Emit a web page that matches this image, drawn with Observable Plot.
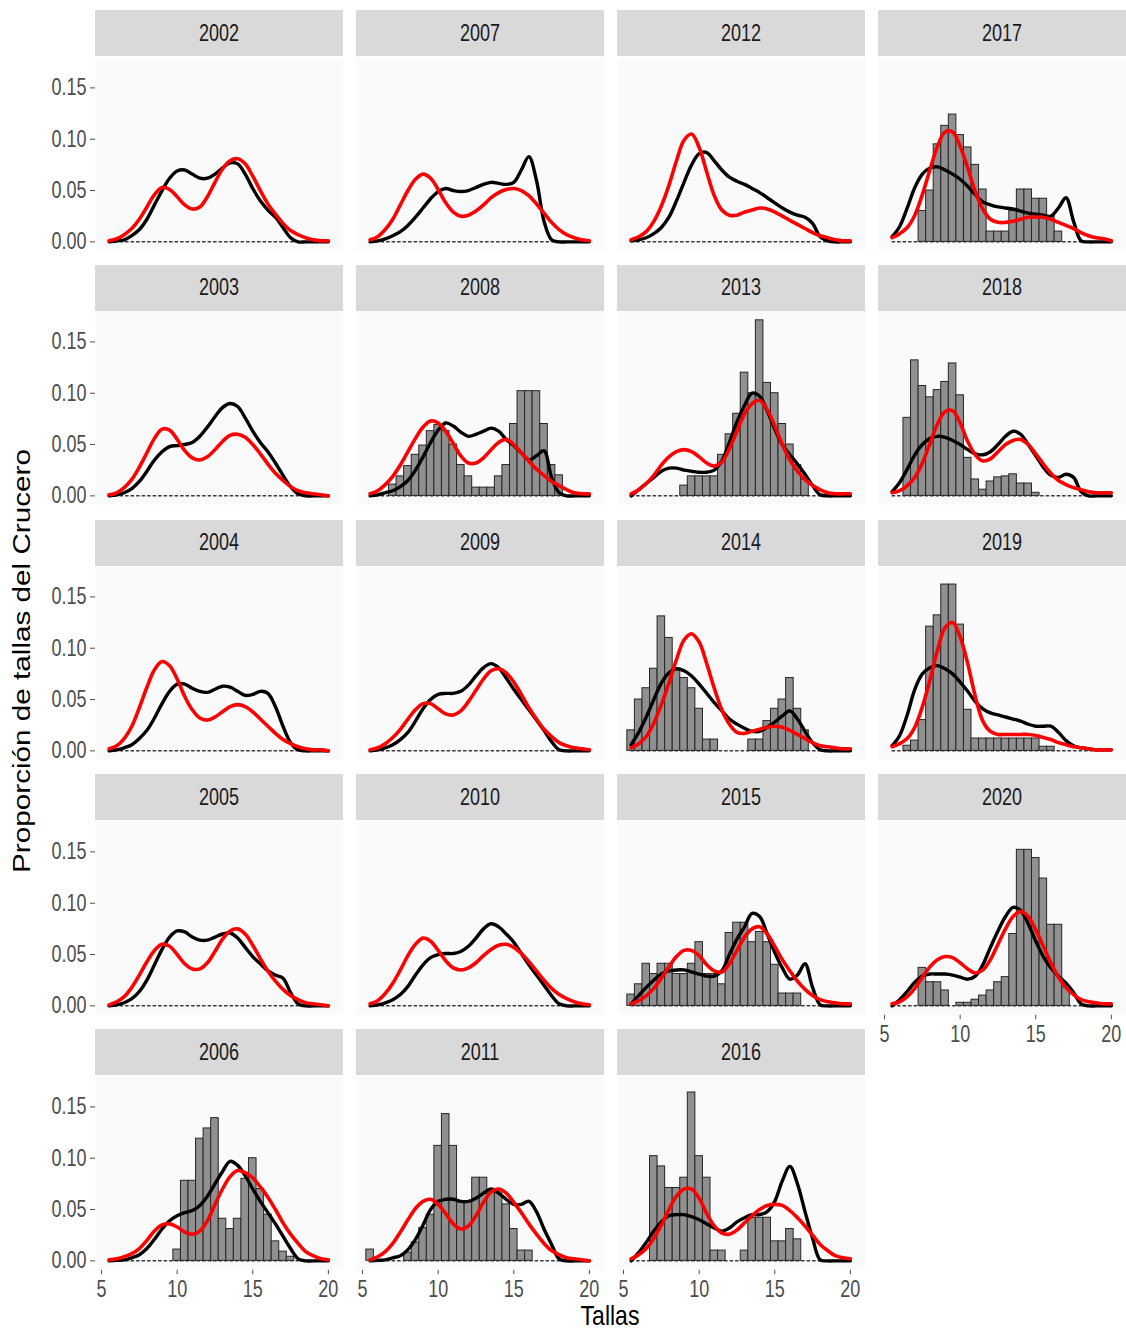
<!DOCTYPE html>
<html><head><meta charset="utf-8">
<script src="https://cdn.jsdelivr.net/npm/d3@7"></script>
<script src="https://cdn.jsdelivr.net/npm/@observablehq/plot@0.6"></script>
<style>
body{margin:0;background:#fff;font-family:"Liberation Sans",Arial,sans-serif;}
#chart{position:relative;width:1126px;height:1335px;overflow:hidden;}
.strip{position:absolute;background:#d9d9d9;height:46px;display:flex;align-items:center;justify-content:center;color:#1a1a1a;font-size:18px;}
.strip span{display:inline-block;transform:scaleY(1.29);}
.panel{position:absolute;}
.ytitle{position:absolute;left:22px;top:661px;transform:translate(-50%,-50%) rotate(-90deg) scaleX(1.29);white-space:nowrap;font-size:23px;color:#000;}
.xtitle{position:absolute;left:610px;top:1315px;transform:translate(-50%,-50%) scaleY(1.2);white-space:nowrap;font-size:23px;line-height:24px;color:#000;}
</style></head><body><div id="chart"></div>
<script>
// Tallas (cm), bin centres / curve points
const tallas = [5.5,6,6.5,7,7.5,8,8.5,9,9.5,10,10.5,11,11.5,12,12.5,13,13.5,14,14.5,15,15.5,16,16.5,17,17.5,18,18.5,19,19.5,20];
const years = [2002,2003,2004,2005,2006,2007,2008,2009,2010,2011,2012,2013,2014,2015,2016,2017,2018,2019,2020];
const xTicks = [5,10,15,20];
const yTicks = [0,0.05,0.10,0.15];
const yTitle = "Proporción de tallas del Crucero";
const xTitle = "Tallas";

// observed (black) curves
const black2002 = [0,0.001,0.002,0.006,0.012,0.022,0.036,0.05,0.062,0.069,0.07,0.066,0.062,0.062,0.066,0.072,0.077,0.076,0.066,0.052,0.04,0.031,0.024,0.014,0.004,0,0,0,0,0];
const black2003 = [0,0.001,0.003,0.007,0.014,0.024,0.035,0.043,0.048,0.049,0.05,0.052,0.058,0.067,0.077,0.086,0.09,0.087,0.076,0.063,0.052,0.043,0.032,0.02,0.009,0.002,0,0,0,0];
const black2004 = [0,0.001,0.003,0.006,0.012,0.02,0.032,0.046,0.058,0.065,0.065,0.061,0.058,0.057,0.06,0.063,0.062,0.058,0.054,0.055,0.058,0.056,0.043,0.024,0.008,0.001,0,0,0,0];
const black2005 = [0,0.001,0.003,0.007,0.014,0.025,0.04,0.055,0.067,0.073,0.072,0.067,0.064,0.064,0.067,0.07,0.071,0.066,0.057,0.048,0.041,0.034,0.03,0.027,0.013,0.002,0,0,0,0];
const black2006 = [0,0.0005,0.001,0.003,0.006,0.012,0.021,0.031,0.039,0.044,0.047,0.049,0.054,0.063,0.075,0.087,0.097,0.093,0.083,0.07,0.058,0.047,0.036,0.024,0.012,0.002,0,0,0,0];
const black2007 = [0,0.001,0.003,0.006,0.01,0.016,0.024,0.033,0.042,0.049,0.052,0.05,0.049,0.05,0.053,0.056,0.058,0.057,0.056,0.058,0.07,0.083,0.06,0.02,0.002,0,0,0,0,0];
const black2008 = [0,0.001,0.003,0.005,0.009,0.015,0.025,0.038,0.052,0.064,0.071,0.068,0.062,0.058,0.06,0.063,0.066,0.063,0.055,0.049,0.042,0.035,0.039,0.044,0.018,0.003,0,0,0,0];
const black2009 = [0,0.001,0.003,0.006,0.011,0.018,0.029,0.041,0.05,0.055,0.056,0.056,0.058,0.064,0.073,0.081,0.085,0.081,0.071,0.06,0.05,0.04,0.03,0.02,0.009,0.001,0,0,0,0];
const black2010 = [0,0.001,0.003,0.006,0.011,0.019,0.03,0.04,0.047,0.05,0.051,0.051,0.053,0.058,0.066,0.075,0.08,0.077,0.07,0.062,0.051,0.04,0.03,0.02,0.01,0.002,0,0,0,0];
const black2011 = [0,0.0005,0.001,0.003,0.005,0.011,0.021,0.035,0.05,0.058,0.06,0.06,0.058,0.058,0.061,0.066,0.07,0.066,0.06,0.055,0.055,0.058,0.048,0.031,0.016,0.002,0,0,0,0];
const black2012 = [0.001,0.002,0.004,0.008,0.014,0.024,0.04,0.058,0.075,0.086,0.087,0.079,0.07,0.063,0.059,0.056,0.052,0.048,0.043,0.038,0.033,0.029,0.026,0.024,0.018,0.005,0.001,0,0,0];
const black2013 = [0,0.006,0.012,0.018,0.024,0.027,0.027,0.025,0.024,0.023,0.023,0.025,0.034,0.052,0.072,0.088,0.1,0.097,0.083,0.065,0.05,0.04,0.031,0.021,0.01,0.001,0,0,0,0];
const black2014 = [0.006,0.018,0.033,0.05,0.066,0.076,0.08,0.078,0.073,0.065,0.056,0.047,0.039,0.031,0.026,0.022,0.019,0.019,0.023,0.028,0.034,0.039,0.031,0.019,0.008,0.001,0,0,0,0];
const black2015 = [0.002,0.01,0.018,0.025,0.031,0.034,0.035,0.035,0.033,0.031,0.029,0.029,0.034,0.05,0.065,0.077,0.09,0.087,0.07,0.052,0.037,0.026,0.03,0.041,0.018,0.001,0,0,0,0];
const black2016 = [0,0.008,0.018,0.029,0.038,0.044,0.045,0.045,0.043,0.04,0.036,0.032,0.029,0.032,0.038,0.042,0.045,0.045,0.048,0.058,0.078,0.092,0.075,0.048,0.022,0.001,0,0,0,0];
const black2017 = [0.005,0.015,0.033,0.053,0.066,0.072,0.073,0.07,0.066,0.061,0.054,0.046,0.039,0.036,0.034,0.033,0.032,0.03,0.028,0.027,0.026,0.025,0.033,0.043,0.02,0.001,0,0,0,0];
const black2018 = [0.004,0.013,0.026,0.04,0.05,0.056,0.058,0.057,0.054,0.05,0.045,0.041,0.04,0.043,0.05,0.058,0.063,0.06,0.05,0.039,0.028,0.02,0.018,0.021,0.018,0.004,0,0,0,0];
const black2019 = [0.005,0.015,0.035,0.06,0.075,0.081,0.083,0.08,0.075,0.067,0.058,0.048,0.041,0.037,0.035,0.033,0.031,0.029,0.026,0.024,0.024,0.024,0.018,0.01,0.005,0.003,0.002,0.001,0.001,0.001];
const black2020 = [0,0.006,0.014,0.023,0.029,0.031,0.031,0.031,0.03,0.028,0.026,0.029,0.04,0.057,0.073,0.087,0.096,0.093,0.08,0.063,0.048,0.037,0.029,0.022,0.013,0.002,0,0,0,0];

// model (red) curves
const red2002 = [0.001,0.003,0.007,0.013,0.022,0.034,0.046,0.053,0.051,0.044,0.036,0.032,0.034,0.044,0.058,0.071,0.079,0.081,0.076,0.064,0.05,0.037,0.027,0.018,0.011,0.007,0.004,0.002,0.001,0.001];
const red2003 = [0.001,0.003,0.008,0.016,0.028,0.042,0.056,0.065,0.064,0.055,0.044,0.037,0.035,0.038,0.045,0.053,0.059,0.06,0.057,0.05,0.041,0.031,0.022,0.015,0.009,0.005,0.003,0.002,0.001,0];
const red2004 = [0.002,0.005,0.012,0.024,0.042,0.062,0.079,0.087,0.083,0.07,0.053,0.04,0.032,0.03,0.033,0.038,0.043,0.045,0.043,0.038,0.031,0.024,0.017,0.011,0.007,0.004,0.002,0.001,0.001,0];
const red2005 = [0.001,0.004,0.009,0.018,0.03,0.043,0.054,0.06,0.058,0.05,0.041,0.036,0.036,0.042,0.053,0.065,0.073,0.075,0.07,0.059,0.046,0.034,0.024,0.016,0.01,0.006,0.003,0.002,0.001,0];
const red2006 = [0.001,0.002,0.004,0.007,0.012,0.02,0.029,0.035,0.036,0.033,0.028,0.026,0.029,0.039,0.055,0.07,0.082,0.088,0.086,0.081,0.072,0.062,0.05,0.037,0.026,0.017,0.009,0.005,0.002,0.001];
const red2007 = [0.002,0.005,0.012,0.022,0.036,0.05,0.061,0.066,0.062,0.051,0.038,0.029,0.025,0.026,0.03,0.036,0.043,0.048,0.051,0.052,0.05,0.045,0.037,0.028,0.019,0.012,0.007,0.004,0.002,0.001];
const red2008 = [0.002,0.005,0.011,0.019,0.03,0.043,0.056,0.067,0.073,0.071,0.063,0.051,0.039,0.032,0.032,0.037,0.045,0.052,0.055,0.05,0.042,0.034,0.026,0.02,0.014,0.01,0.006,0.003,0.002,0.002];
const red2009 = [0.001,0.003,0.007,0.013,0.021,0.031,0.04,0.046,0.046,0.041,0.036,0.035,0.039,0.048,0.059,0.07,0.078,0.08,0.076,0.067,0.055,0.042,0.031,0.021,0.014,0.008,0.005,0.003,0.002,0.001];
const red2010 = [0.002,0.005,0.012,0.022,0.035,0.049,0.06,0.066,0.063,0.054,0.044,0.037,0.035,0.037,0.042,0.049,0.055,0.059,0.06,0.057,0.051,0.043,0.034,0.025,0.017,0.011,0.007,0.004,0.002,0.001];
const red2011 = [0.001,0.004,0.009,0.017,0.028,0.04,0.051,0.058,0.06,0.055,0.046,0.036,0.031,0.034,0.044,0.057,0.067,0.07,0.066,0.057,0.047,0.036,0.026,0.017,0.01,0.006,0.003,0.002,0.001,0];
const red2012 = [0.002,0.005,0.01,0.02,0.035,0.055,0.079,0.099,0.105,0.092,0.068,0.045,0.031,0.026,0.026,0.029,0.031,0.033,0.032,0.029,0.025,0.021,0.017,0.013,0.009,0.006,0.004,0.002,0.001,0.001];
const red2013 = [0.002,0.006,0.012,0.02,0.03,0.038,0.043,0.045,0.043,0.038,0.032,0.029,0.033,0.046,0.063,0.08,0.09,0.093,0.084,0.068,0.05,0.035,0.024,0.016,0.01,0.006,0.003,0.002,0.002,0.002];
const red2014 = [0.003,0.007,0.014,0.027,0.045,0.066,0.089,0.108,0.114,0.106,0.085,0.061,0.04,0.026,0.018,0.017,0.019,0.021,0.023,0.024,0.023,0.02,0.016,0.012,0.008,0.005,0.004,0.003,0.002,0.002];
const red2015 = [0.002,0.005,0.01,0.017,0.027,0.038,0.048,0.054,0.054,0.049,0.04,0.034,0.033,0.041,0.054,0.067,0.075,0.077,0.07,0.058,0.045,0.034,0.024,0.016,0.01,0.006,0.004,0.003,0.002,0.002];
const red2016 = [0.002,0.006,0.012,0.022,0.035,0.05,0.063,0.07,0.07,0.061,0.046,0.034,0.027,0.026,0.03,0.037,0.044,0.05,0.054,0.055,0.054,0.049,0.042,0.034,0.025,0.016,0.01,0.005,0.003,0.002];
const red2017 = [0.004,0.008,0.014,0.026,0.046,0.07,0.093,0.107,0.107,0.093,0.072,0.049,0.032,0.022,0.019,0.019,0.02,0.022,0.024,0.024,0.024,0.022,0.019,0.016,0.013,0.009,0.006,0.004,0.003,0.001];
const red2018 = [0.003,0.005,0.01,0.018,0.032,0.051,0.07,0.082,0.083,0.071,0.053,0.04,0.034,0.036,0.043,0.05,0.054,0.055,0.05,0.041,0.031,0.022,0.015,0.011,0.008,0.006,0.004,0.003,0.003,0.003];
const red2019 = [0.004,0.007,0.012,0.023,0.043,0.069,0.098,0.12,0.125,0.111,0.085,0.053,0.029,0.019,0.016,0.016,0.016,0.016,0.016,0.015,0.013,0.011,0.008,0.006,0.004,0.003,0.002,0.001,0.001,0.001];
const red2020 = [0.002,0.004,0.009,0.017,0.028,0.038,0.045,0.048,0.047,0.042,0.036,0.032,0.035,0.045,0.06,0.075,0.087,0.092,0.087,0.074,0.058,0.042,0.028,0.018,0.011,0.006,0.004,0.003,0.002,0.002];

// histogram proportions (0.5 cm bins centred on tallas)
const hist2006 = [0,0,0,0,0,0,0,0,0,0.011,0.078,0.078,0.119,0.129,0.139,0.041,0.031,0.041,0.08,0.1,0.07,0.045,0.019,0.009,0.004,0,0,0,0,0];
const hist2008 = [0,0,0,0.011,0.019,0.029,0.04,0.049,0.063,0.069,0.063,0.05,0.03,0.019,0.008,0.008,0.008,0.019,0.03,0.07,0.102,0.102,0.102,0.07,0.03,0.02,0,0,0,0];
const hist2011 = [0.011,0,0,0,0,0.008,0.018,0.032,0.045,0.112,0.143,0.112,0.058,0.058,0.081,0.081,0.068,0.068,0.055,0.031,0.01,0.01,0,0,0,0,0,0,0,0];
const hist2013 = [0,0,0,0,0,0,0,0.01,0.019,0.019,0.019,0.019,0.04,0.06,0.08,0.12,0.1,0.171,0.11,0.1,0.07,0.05,0.03,0.016,0,0,0,0,0,0];
const hist2014 = [0.02,0.05,0.061,0.08,0.131,0.11,0.08,0.071,0.061,0.041,0.011,0.011,0,0,0,0,0.011,0.011,0.029,0.041,0.05,0.071,0.041,0.02,0,0,0,0,0,0];
const hist2015 = [0.011,0.021,0.041,0.031,0.041,0.041,0.031,0.031,0.041,0.062,0.031,0.031,0.021,0.071,0.081,0.081,0.062,0.072,0.062,0.04,0.012,0.012,0.012,0,0,0,0,0,0,0];
const hist2016 = [0,0,0,0.102,0.092,0.071,0.071,0.081,0.164,0.102,0.081,0.01,0.01,0,0,0.01,0.042,0.042,0.042,0.019,0.019,0.031,0.021,0,0,0,0,0,0,0];
const hist2017 = [0,0,0,0,0.03,0.05,0.095,0.113,0.124,0.104,0.092,0.075,0.051,0.01,0.01,0.01,0.03,0.051,0.051,0.042,0.042,0.025,0.01,0,0,0,0,0,0,0];
const hist2018 = [0,0,0.076,0.132,0.107,0.096,0.103,0.111,0.129,0.098,0.037,0.016,0.006,0.014,0.018,0.019,0.021,0.012,0.012,0.003,0,0,0,0,0,0,0,0,0,0];
const hist2019 = [0,0,0.005,0.01,0.03,0.121,0.132,0.162,0.162,0.123,0.04,0.012,0.012,0.012,0.012,0.012,0.012,0.012,0.012,0.012,0.004,0.004,0,0,0,0,0,0,0,0];
const hist2020 = [0,0,0,0,0.037,0.023,0.023,0.015,0,0.003,0.003,0.006,0.01,0.015,0.023,0.028,0.07,0.152,0.152,0.144,0.124,0.079,0.079,0.018,0,0,0,0,0,0];

const blackBy = {2002:black2002,2003:black2003,2004:black2004,2005:black2005,2006:black2006,2007:black2007,2008:black2008,2009:black2009,2010:black2010,2011:black2011,2012:black2012,2013:black2013,2014:black2014,2015:black2015,2016:black2016,2017:black2017,2018:black2018,2019:black2019,2020:black2020};
const redBy = {2002:red2002,2003:red2003,2004:red2004,2005:red2005,2006:red2006,2007:red2007,2008:red2008,2009:red2009,2010:red2010,2011:red2011,2012:red2012,2013:red2013,2014:red2014,2015:red2015,2016:red2016,2017:red2017,2018:red2018,2019:red2019,2020:red2020};
const histBy = {2006:hist2006,2008:hist2008,2011:hist2011,2013:hist2013,2014:hist2014,2015:hist2015,2016:hist2016,2017:hist2017,2018:hist2018,2019:hist2019,2020:hist2020};

// layout
const colLeft = [95,356,617,878];
const panelW = 248;
const stripH = 46;
const rowPitch = 254.75;
const firstStripTop = 10;
const panelH = 193.2;
const yLeftMargin = 95;
const binHalf = 0.25;

const chart = document.getElementById("chart");

years.forEach((year, i) => {
  const col = Math.floor(i / 5), row = i % 5;
  const isLeft = col === 0;
  const hasX = row === 4 || year === 2020;
  const stripTop = firstStripTop + rowPitch * row;

  const strip = document.createElement("div");
  strip.className = "strip";
  strip.style.left = colLeft[col] + "px";
  strip.style.top = stripTop + "px";
  strip.style.width = panelW + "px";
  strip.innerHTML = `<span>${year}</span>`;
  chart.appendChild(strip);

  const lines = tallas.map((t, k) => ({t, black: blackBy[year][k], red: redBy[year][k]}));
  const bars = histBy[year] ? tallas.map((t, k) => ({t, v: histBy[year][k]})).filter(d => d.v > 0) : [];

  const marks = [
    Plot.frame({fill: "#fafafa", stroke: "none"}),
    Plot.ruleY([0], {x1: d3.min(tallas), x2: d3.max(tallas), stroke: "#3a3a3a", strokeWidth: 1.5, strokeDasharray: "3.5,2"}),
    Plot.rectY(bars, {x1: d => d.t - binHalf, x2: d => d.t + binHalf, y1: 0, y2: "v", fill: "#909090", stroke: "#262626", strokeWidth: 1}),
    Plot.line(lines, {x: "t", y: "black", stroke: "#000", strokeWidth: 3.4, curve: "catmull-rom"}),
    Plot.line(lines, {x: "t", y: "red", stroke: "#ff0000", strokeWidth: 3.6, curve: "catmull-rom"})
  ];

  const svg = Plot.plot({
    width: (isLeft ? yLeftMargin : 0) + panelW,
    height: panelH + (hasX ? 40 : 0),
    marginLeft: isLeft ? yLeftMargin : 0,
    marginRight: 0,
    marginTop: 0,
    marginBottom: hasX ? 40 : 0,
    style: {background: "transparent", fontFamily: "'Liberation Sans', Arial, sans-serif", fontSize: "18px", color: "#4d4d4d", overflow: "visible"},
    x: {domain: [4.6, 21.0], ticks: xTicks, axis: hasX ? "bottom" : null, tickSize: 5, tickPadding: 6, label: null, tickFormat: d => String(d)},
    y: {domain: [-0.0086, 0.1796], ticks: yTicks, axis: isLeft ? "left" : null, tickSize: 5, tickPadding: 4, label: null, tickFormat: d3.format(".2f")},
    marks
  });
  svg.querySelectorAll('g[aria-label$="tick label"] text').forEach(t => {
    t.setAttribute("transform", (t.getAttribute("transform") || "") + " scale(1,1.29)");
  });
  svg.classList.add("panel");
  svg.style.position = "absolute";
  svg.style.left = (isLeft ? colLeft[col] - yLeftMargin : colLeft[col]) + "px";
  svg.style.top = (stripTop + stripH + 0.6) + "px";
  chart.appendChild(svg);
});

const yt = document.createElement("div");
yt.className = "ytitle"; yt.textContent = yTitle; chart.appendChild(yt);
const xt = document.createElement("div");
xt.className = "xtitle"; xt.textContent = xTitle; chart.appendChild(xt);
</script></body></html>
